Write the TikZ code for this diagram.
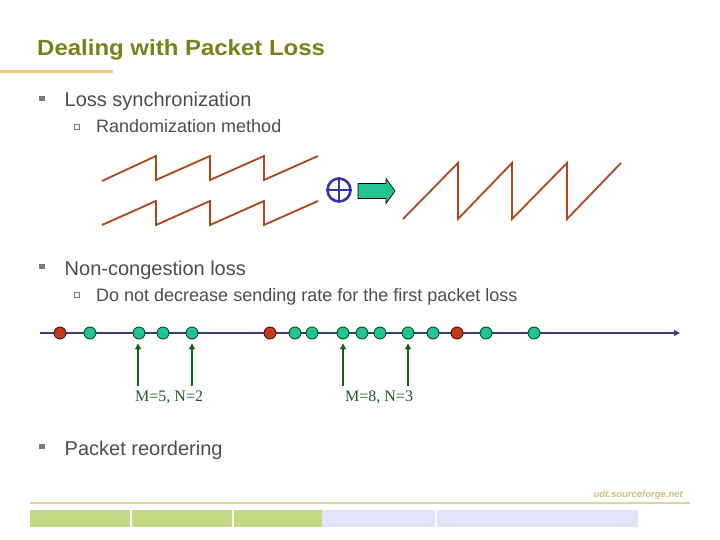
\documentclass[tikz,border=0pt]{standalone}
\usepackage{fontspec}
\setmainfont{Liberation Sans}
\newfontfamily\timesfont{Liberation Serif}
\usetikzlibrary{arrows.meta}
\definecolor{titlecol}{HTML}{7F7F1A}
\definecolor{orangeline}{HTML}{F2C87A}
\definecolor{txtcol}{HTML}{4D4D4D}
\definecolor{bulcol}{HTML}{7A7A7A}
\definecolor{sawcol}{HTML}{B0461E}
\definecolor{pluscol}{HTML}{3535A8}
\definecolor{tealfill}{HTML}{22C494}
\definecolor{redfill}{HTML}{C23C18}
\definecolor{axiscol}{HTML}{3A3A8A}
\definecolor{arrgreen}{HTML}{1E5C1E}
\definecolor{footline}{HTML}{DCD5A2}
\definecolor{foottxt}{HTML}{C9C27E}
\definecolor{bargreen}{HTML}{C2D985}
\definecolor{barlav}{HTML}{E3E4FA}
\tikzset{
  lvlone/.style={anchor=base west,inner sep=0pt,text=txtcol,font=\fontsize{20}{22}\selectfont},
  lvltwo/.style={anchor=base west,inner sep=0pt,text=txtcol,font=\fontsize{18}{20}\selectfont},
  bulone/.style={fill=bulcol,draw=none,minimum size=5.5pt,inner sep=0pt},
  bultwo/.style={draw=bulcol,line width=0.8pt,fill=white,minimum size=5pt,inner sep=0pt},
  saw/.style={draw=sawcol,line width=1.8pt,line join=miter},
  pkt/.style={circle,minimum size=12pt,inner sep=0pt,line width=0.8pt},
  goodpkt/.style={pkt,fill=tealfill,draw=black!75!green},
  lostpkt/.style={pkt,fill=redfill,draw=black!70!red},
  mark arrow/.style={draw=arrgreen,line width=1.8pt,-{Triangle[length=6pt,width=6pt]},shorten >=4pt},
  mlabel/.style={anchor=base west,inner sep=0pt,text=arrgreen,font=\timesfont\fontsize{16}{18}\selectfont},
  barbox/.style={draw=none,inner sep=0pt,anchor=north west,minimum height=17pt}
}
\begin{document}
\begin{tikzpicture}[x=1pt,y=-1pt]
\useasboundingbox (0,0) rectangle (720,540);
% title
\node[anchor=base west,inner sep=0pt,text=titlecol,font=\bfseries\fontsize{22}{24}\selectfont] (title) at (37,56) {\scalebox{1.09}[1]{Dealing with Packet Loss}};
\draw[orangeline,line width=3pt] (0,72) -- (113,72);
% bullets
\node[bulone] (b1) at (42,98.5) {};
\node[lvlone] (t1) at (64.5,106.5) {Loss synchronization};
\node[bultwo] (b2) at (77,126.5) {};
\node[lvltwo] (t2) at (96,133) {Randomization method};
\node[bulone] (b3) at (42,266.5) {};
\node[lvlone] (t3) at (64.5,275) {Non-congestion loss};
\node[bultwo] (b4) at (77,295) {};
\node[lvltwo] (t4) at (96,301.5) {Do not decrease sending rate for the first packet loss};
\node[bulone] (b5) at (42,446.5) {};
\node[lvlone] (t5) at (64.5,455) {Packet reordering};
% sawtooth waves
\draw[saw] (102,181) -- (156,156) -- (156,180) -- (210,156) -- (210,180) -- (264,156) -- (264,180) -- (318,156);
\draw[saw] (102,225) -- (156,201) -- (156,225) -- (210,201) -- (210,225) -- (264,201) -- (264,225) -- (318,201);
\draw[saw] (403,219) -- (458,163) -- (458,219) -- (512,163) -- (512,219) -- (567,163) -- (567,219) -- (621,163);
% oplus
\node[circle,draw=pluscol,line width=2.6pt,minimum size=23pt,inner sep=0pt] (plus) at (339,190) {};
\draw[pluscol,line width=2.6pt] (plus.north) -- (plus.south) (plus.west) -- (plus.east);
% block arrow
\draw[fill=tealfill,draw=black,line width=0.7pt] (358,183.5) -- (386,183.5) -- (386,178.5) -- (395,191) -- (386,203.5) -- (386,198.5) -- (358,198.5) -- cycle;
% timeline
\coordinate (ts) at (40,333);
\coordinate (te) at (680,333);
\draw[axiscol,line width=1.8pt,-{Triangle[length=6pt,width=6pt]}] (ts) -- (te);
\node[lostpkt] (p1) at (60,333) {};
\node[goodpkt] (p2) at (90,333) {};
\node[goodpkt] (p3) at (139,333) {};
\node[goodpkt] (p4) at (163,333) {};
\node[goodpkt] (p5) at (192,333) {};
\node[lostpkt] (p6) at (270,333) {};
\node[goodpkt] (p7) at (295,333) {};
\node[goodpkt] (p8) at (312,333) {};
\node[goodpkt] (p9) at (343,333) {};
\node[goodpkt] (p10) at (362,333) {};
\node[goodpkt] (p11) at (380,333) {};
\node[goodpkt] (p12) at (408,333) {};
\node[goodpkt] (p13) at (433,333) {};
\node[lostpkt] (p14) at (457,333) {};
\node[goodpkt] (p15) at (486,333) {};
\node[goodpkt] (p16) at (534,333) {};
% marker arrows
\coordinate (m1) at (138,386);
\coordinate (m2) at (192,386);
\coordinate (m3) at (343,386);
\coordinate (m4) at (408,386);
\draw[mark arrow] (m1) -- (m1 |- p3.south);
\draw[mark arrow] (m2) -- (p5);
\draw[mark arrow] (m3) -- (p9);
\draw[mark arrow] (m4) -- (p12);
\node[mlabel] (l1) at (135,401.5) {M=5, N=2};
\node[mlabel] (l2) at (345,401.5) {M=8, N=3};
% footer
\node[anchor=base east,inner sep=0pt,text=foottxt,font=\bfseries\itshape\fontsize{9.5}{10}\selectfont] (url) at (683,497) {udt.sourceforge.net};
\draw[footline,line width=2pt] (30,503) -- (690,503);
\node[barbox,fill=bargreen,minimum width=100pt] (f1) at (30,510) {};
\node[barbox,fill=bargreen,minimum width=100pt] (f2) at (132,510) {};
\node[barbox,fill=bargreen,minimum width=88pt] (f3) at (234,510) {};
\node[barbox,fill=barlav,minimum width=113pt] (f4) at (322,510) {};
\node[barbox,fill=barlav,minimum width=201pt] (f5) at (437,510) {};
\end{tikzpicture}
\end{document}
